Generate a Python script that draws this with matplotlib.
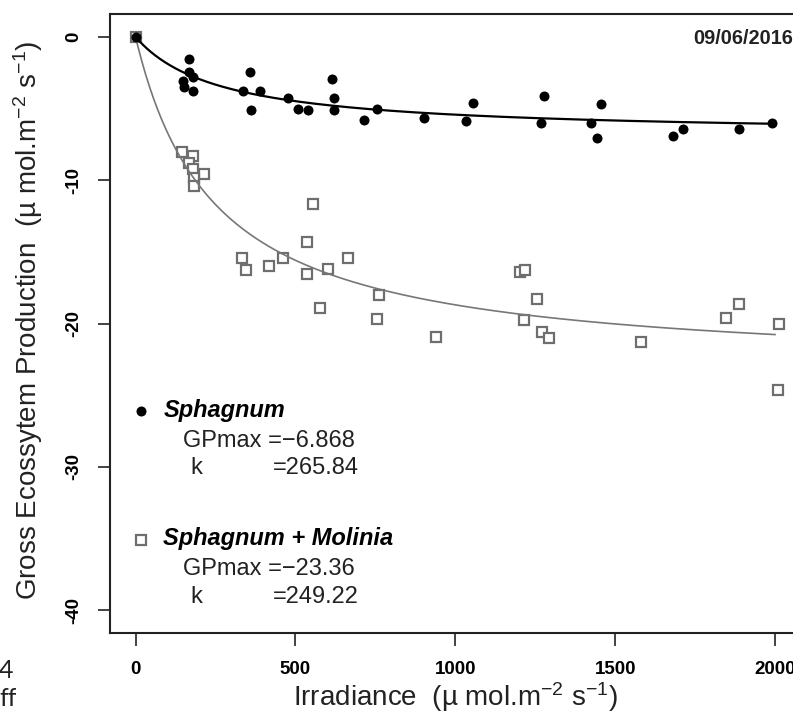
import numpy as np
import matplotlib
matplotlib.use("Agg")
import matplotlib.pyplot as plt
from matplotlib.transforms import Bbox

plt.rcParams['font.family'] = ['Liberation Sans', 'DejaVu Sans']
plt.rcParams['mathtext.fontset'] = 'custom'
plt.rcParams['mathtext.rm'] = 'Liberation Sans'
plt.rcParams['mathtext.default'] = 'regular'
plt.rcParams['axes.unicode_minus'] = False

# ---- data ----
sph_x = [0, 148, 151, 166, 166, 179, 179, 335, 359, 362, 388, 476, 507, 540, 615, 622, 622,
         714, 755, 901, 1034, 1055, 1268, 1276, 1425, 1443, 1456, 1682, 1711, 1888, 1990]
sph_y = [0, -3.07, -3.49, -1.56, -2.44, -2.79, -3.77, -3.77, -2.44, -5.12, -3.77, -4.23, -5.02,
         -5.12, -2.93, -4.23, -5.12, -5.82, -5.0, -5.63, -5.86, -4.58, -5.98, -4.12, -5.98,
         -7.02, -4.70, -6.91, -6.44, -6.44, -5.98]

mol_x = [0, 146, 180, 167, 180, 213, 182, 182, 333, 344, 417, 461, 536, 536, 555, 578, 601,
         665, 755, 762, 941, 1203, 1219, 1214, 1257, 1271, 1292, 1580, 1847, 1888, 2013, 2010]
mol_y = [0, -8.0, -8.3, -8.77, -9.23, -9.58, -9.82, -10.4, -15.4, -16.28, -15.98, -15.45,
         -14.3, -16.56, -11.68, -18.89, -16.21, -15.4, -19.7, -18.03, -20.93, -16.44, -16.28,
         -19.77, -18.3, -20.59, -20.98, -21.28, -19.59, -18.66, -20.05, -24.66]

sph_gpmax, sph_k = -6.868, 265.84
mol_gpmax, mol_k = -23.36, 249.22

x_ticks = [0, 500, 1000, 1500, 2000]
y_ticks = [0, -10, -20, -30, -40]
date_label = "09/06/2016"

GRAY = '#6e6e6e'
CURVE_GRAY = '#777777'

W, H = 793, 713
fig = plt.figure(figsize=(W / 100, H / 100), dpi=100)
left, right, top, bottom = 110, 800.6, 14, 633
ax = fig.add_axes([left / W, (H - bottom) / H, (right - left) / W, (bottom - top) / H])

ax.set_xlim(-80, 2080)
ax.set_ylim(-41.6, 1.6)

# fitted curves (rectangular hyperbola from the shown parameters)
irr = np.linspace(0, 2000, 500)
ax.plot(mol_x, mol_y, linestyle='none', marker='s', ms=7.6, mfc='white', mec=GRAY, mew=1.6,
        zorder=2)
ax.plot(irr, mol_gpmax * irr / (mol_k + irr), color=CURVE_GRAY, lw=1.2, zorder=3)
ax.plot(sph_x, sph_y, linestyle='none', marker='o', ms=7.2, mfc='black', mec='black', mew=0,
        zorder=4)
ax.plot(irr, sph_gpmax * irr / (sph_k + irr), color='black', lw=1.6, zorder=5)

for s in ax.spines.values():
    s.set_linewidth(1.5)
    s.set_color('#222222')

ax.set_xticks(x_ticks)
ax.set_yticks(y_ticks)
ax.set_xticklabels([str(v) for v in x_ticks], fontsize=13.5, fontweight='bold')
ax.set_yticklabels([str(v) for v in y_ticks], fontsize=13.5, fontweight='bold',
                   rotation=90, va='center')
ax.tick_params(axis='both', length=9, width=1.2, color='#222222', pad=11)

ax.set_xlabel('Irradiance  (µ mol.m$^{-2}$ s$^{-1}$)', fontsize=20, color='#222222')
ax.xaxis.set_label_coords(0.5, -(697 - bottom) / (bottom - top), transform=ax.transAxes)
ax.xaxis.label.set_va('center')
ax.set_ylabel('Gross Ecossytem Production  (µ mol.m$^{-2}$ s$^{-1}$)', fontsize=20,
              color='#222222')
ax.yaxis.set_label_coords(-(left - 28) / (right - left), (bottom - 320) / (bottom - top),
                          transform=ax.transAxes)
ax.yaxis.label.set_va('center')

# date
ax.text(2056, -0.1, date_label, ha='right', va='center', fontsize=14.3, fontweight='bold',
        color='#222222')

# legend-like annotations
ax.plot([16], [-26.1], marker='o', ms=7.2, mfc='black', mec='black', mew=0, clip_on=False)
ax.text(87, -26.1, 'Sphagnum', fontsize=17, fontweight='bold', style='italic', va='center')
ax.text(147, -28.2, 'GPmax =−6.868', fontsize=17, va='center', color='#222222')
ax.text(170, -30.1, 'k', fontsize=17, va='center', color='#222222')
ax.text(428, -30.1, '=265.84', fontsize=17, va='center', color='#222222')

ax.plot([16], [-35.1], marker='s', ms=7.6, mfc='white', mec=GRAY, mew=1.6, clip_on=False)
ax.text(87, -35.0, 'Sphagnum + Molinia', fontsize=17, fontweight='bold', style='italic',
        va='center')
ax.text(147, -37.1, 'GPmax =−23.36', fontsize=17, va='center', color='#222222')
ax.text(170, -39.1, 'k', fontsize=17, va='center', color='#222222')
ax.text(428, -39.1, '=249.22', fontsize=17, va='center', color='#222222')

# cropped page fragments at bottom left
fig.text(-1 / W, 1 - 670 / H, '4', fontsize=18, family=['Lato', 'DejaVu Sans'],
         ha='left', va='center', color='#222222')
t = fig.text(-1 / W, 1 - 698 / H, 'ff', fontsize=18, family=['Lato', 'DejaVu Sans'],
             ha='left', va='center', color='#222222')
t.set_clip_box(Bbox.from_extents(0, 0, 16, H))
t.set_clip_on(True)

fig.savefig('out.png', dpi=100)
